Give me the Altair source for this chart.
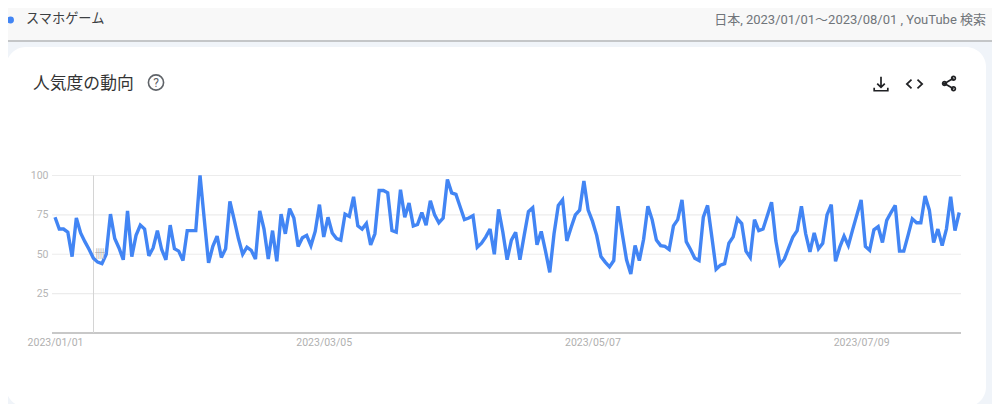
import altair as alt
import pandas as pd

values = [73.5,66,66,64,48.5,73,63.5,58,53,47.5,45,44,50,75.5,60,54,46.5,77.5,48.5,62,
68.5,66,49,54,65,53,46.5,68.5,53.5,52,46,65,65,65,100,72,44.5,55,61.5,48,
53.5,83.5,72,60,50,54.5,52.5,47,77.5,66,47,65,45.5,75.5,63,79,73,55,60.5,62,
55.5,64.5,81.5,61,73.5,63.5,60,59,75.5,74,86.5,68,66,69.5,56,63,90.5,90.5,89,65,
64,91,73.5,82.5,68,69,76.5,68.5,84,75,70,73,97.5,89,88,80,72,73,74.5,54.5,
57,61,66,50,78.5,64,46.5,59,64,46.5,62,77,79.5,56,64.5,52,38.5,63,81,84.5,
58.5,67,75,78,96.5,78,71,62,48.5,45,42,46,80.5,63,46.5,37.5,55.5,46,59.5,80.5,
72,59,55.5,55,53,68,72,84.5,58,53,47.5,46,73.5,81,61,40.5,43,44,57,61,
72.5,69.5,52,48,72,65,66,74.5,83,58.5,43.5,47,54,61,65,80.5,63,51.5,63.5,53.5,
57,75,81.5,45.5,54.5,61.5,55.5,65.5,75,84.5,55,52.5,65.5,67.5,57.5,71.5,76.5,81,52,52,
62,72.5,70,70,87,78,57.5,66,55.5,66,86.5,65,76.5]
dates = pd.date_range("2023-01-01", periods=len(values), freq="D").strftime("%Y-%m-%d").tolist()
tick_dates = ["2023-01-01", "2023-03-05", "2023-05-07", "2023-07-09"]
y_ticks = [0, 25, 50, 75, 100]
series_name = "スマホゲーム"
meta_text = "日本, 2023/01/01〜2023/08/01 , YouTube 検索"
card_title = "人気度の動向"

L, T, W, H = 52, 175.5, 909, 157.5
FONT = "Roboto"
JP = "Roboto, Noto Sans CJK JP"
BLUE = "#4285f4"

def px(v): return alt.value(v - L)
def py(v): return alt.value(v - T)
one = pd.DataFrame({"a": [0]})

def rect(x0, x1, y0, y1, color, **kw):
    return alt.Chart(one).mark_rect(color=color, clip=False, **kw).encode(
        x=px(x0), x2=px(x1), y=py(y0), y2=py(y1))

def text(s, x, y, size, color, align="left", font=JP, weight=400):
    return alt.Chart(pd.DataFrame({"t": [s]})).mark_text(
        fontSize=size, color=color, align=align, baseline="middle", font=font, clip=False, fontWeight=weight
    ).encode(x=px(x), y=py(y), text="t:N")

def icon(path, x, y, size=120, stroke="#202124", sw=1.7):
    return alt.Chart(one).mark_point(shape=path, size=size, stroke=stroke, strokeWidth=sw,
                                     opacity=1, clip=False, filled=False).encode(x=px(x), y=py(y))

df = pd.DataFrame({"date": dates, "value": values})
xscale = alt.Scale(type="utc", domain=["2022-12-31T07:00:00Z", "2023-08-01T10:00:00Z"])
yscale = alt.Scale(domain=[0, 100], nice=False)

decor = [
    rect(0, 1000, 0, 412, "#f0f4f9"),
    rect(0, 1000, 0, 40, "#f8f8f8"),
    rect(0, 1000, 40, 42, "#c4c6c8"),
    rect(6, 986, 47, 407, "#ffffff", cornerRadius=20),
]

grid = alt.Chart(pd.DataFrame({"v": y_ticks})).mark_rule(color="#ececec", strokeWidth=1.2).encode(
    y=alt.Y("v:Q", scale=yscale, axis=alt.Axis(
        values=y_ticks[1:], title=None, domain=False, ticks=False, grid=False, zindex=1,
        labelFont=FONT, labelFontSize=10.5, labelColor="#b5b5b5", labelPadding=4)),
    x=alt.value(0), x2=alt.value(W))

base = alt.Chart(one).mark_rule(color="#c8c8c8", strokeWidth=2).encode(
    x=alt.value(0), x2=alt.value(W), y=alt.value(H))

line = alt.Chart(df).mark_line(color=BLUE, strokeWidth=3.4, strokeJoin="miter", strokeMiterLimit=3).encode(
    x=alt.X("date:T", scale=xscale, axis=alt.Axis(
        values=tick_dates, title=None, grid=False, domain=False, ticks=False, zindex=1,
        labelExpr="utcFormat(datum.value, '%Y/%m/%d')", labelFont=FONT, labelFontSize=10.5,
        labelColor="#b0b0b0", labelPadding=4, labelOverlap=False, labelFlush=False)),
    y=alt.Y("value:Q", scale=yscale))

cross = alt.Chart(one).mark_rule(color="#d4d4d4", strokeWidth=1).encode(
    x=px(93.5), y=py(175.5), y2=py(333))

DL = "M0,-1 L0,0.35 M-0.5,-0.1 L0,0.4 L0.5,-0.1 M-0.9,0.45 L-0.9,0.85 L0.9,0.85 L0.9,0.45"
CODE = "M-0.35,-0.5 L-0.9,0 L-0.35,0.5 M0.35,-0.5 L0.9,0 L0.35,0.5"
SHARE = "M0.6,-0.7 L-0.6,0 L0.6,0.7 M0.85,-0.7 A0.25,0.25 0 1 1 0.35,-0.7 A0.25,0.25 0 1 1 0.85,-0.7 M-0.35,0 A0.25,0.25 0 1 1 -0.85,0 A0.25,0.25 0 1 1 -0.35,0 M0.85,0.7 A0.25,0.25 0 1 1 0.35,0.7 A0.25,0.25 0 1 1 0.85,0.7"

layers = decor + [
    alt.Chart(one).mark_point(filled=True, size=48, color=BLUE, opacity=1, clip=False).encode(x=px(10.5), y=py(20)),
    text(series_name, 26, 19, 13.2, "#3c4043"),
    text(meta_text, 986, 19.5, 13, "#70757a", align="right"),
    text(card_title, 33, 83.5, 16.8, "#333333"),
    alt.Chart(one).mark_point(size=230, stroke="#5f6368", strokeWidth=1.6, filled=False, opacity=1, clip=False).encode(x=px(156), y=py(82.5)),
    text("?", 156, 82.5, 12, "#5f6368", align="center", font=FONT),
    icon(DL, 881, 84.3, size=229),
    icon(CODE, 914.5, 84, size=290),
    icon(SHARE, 949, 83.5, size=225),
    grid, base, cross, line,
    text("卌", 100, 255, 11, "#b8b8b8", align="center"),
]

chart = alt.layer(*layers).resolve_scale(x="shared", y="shared").properties(
    width=W, height=H,
    padding={"left": L - 8, "top": T - 8, "right": 992 - L - W, "bottom": 404 - T - H},
    autosize=alt.AutoSizeParams(type="none"),
    background="#ffffff",
).configure_view(stroke=None)

chart.save("out.html", embed_options={"renderer": "svg", "actions": False})
